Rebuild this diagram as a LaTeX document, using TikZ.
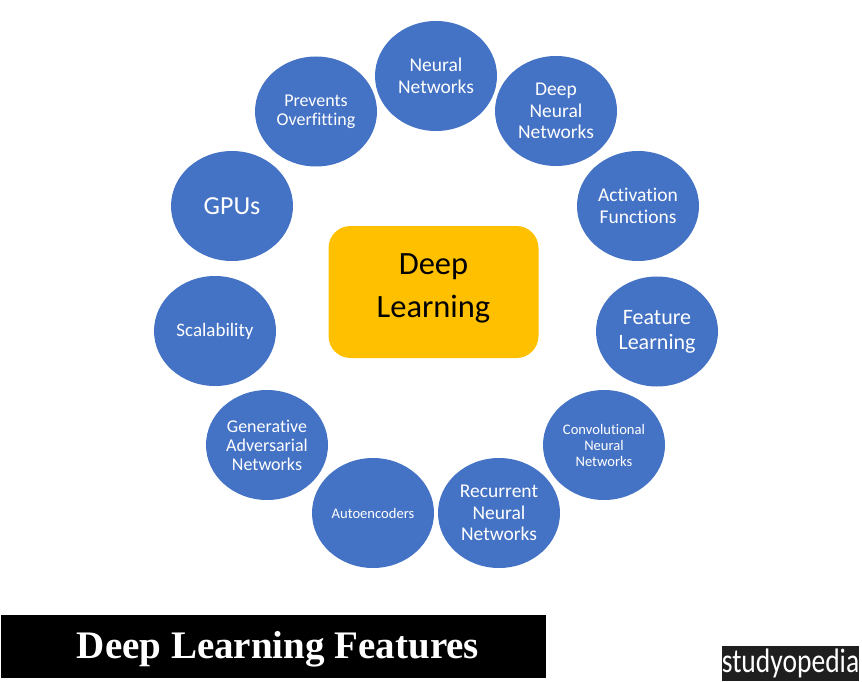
\documentclass[tikz,border=0pt]{standalone}
\usepackage{xcolor}
\usepackage{fontspec}
\setmainfont[Ligatures={NoRequired,NoCommon,NoContextual}]{Carlito}
\newfontfamily\titlefont{Liberation Serif}
\definecolor{dlblue}{HTML}{4472C4}
\definecolor{dlgold}{HTML}{FFC000}
\usetikzlibrary{shapes.geometric}
\tikzset{
  dlfeat/.style={ellipse,fill=dlblue,text=white,align=center,inner sep=0pt,minimum width=122pt,minimum height=110pt},
  dlhub/.style={rectangle,rounded corners=22pt,fill=dlgold,minimum width=210pt,minimum height=132pt},
  dlbar/.style={fill=black,inner sep=0pt},
}
\newcommand{\fszA}{\fontsize{19.5}{21.5}\selectfont}
\newcommand{\fszB}{\fontsize{18}{19}\selectfont}
\newcommand{\fszC}{\fontsize{14.6}{16}\selectfont}
\begin{document}
\begin{tikzpicture}[x=1pt,y=-1pt]
  \useasboundingbox (0,0) rectangle (862,682);
  % centre box
  \node[dlhub] (hub) at (433.5,292) {};
  \node[align=center,font=\fontsize{32.5}{43}\selectfont] (hubtext) at ([yshift=4pt]hub.center) {Deep\\Learning};
  % ring of features, clockwise from the top
  \node[dlfeat,font=\fszA] (nn) at (436,76) {Neural\\Networks};
  \node[dlfeat,font=\fszA] (dnn) at (556,111) {Deep\\Neural\\Networks};
  \node[dlfeat,font=\fszA] (act) at (638,206) {Activation\\Functions};
  \node[dlfeat,font=\fontsize{22}{25}\selectfont] (fl) at (657,331.5) {Feature\\Learning};
  \node[dlfeat,font=\fszC] (cnn) at (604,445) {Convolutional\\Neural\\Networks};
  \node[dlfeat,font=\fszA] (rnn) at (499,513) {Recurrent\\Neural\\Networks};
  \node[dlfeat,font=\fszC] (ae) at (373,513) {Autoencoders};
  \node[dlfeat,font=\fszB] (gan) at (267,445) {Generative\\Adversarial\\Networks};
  \node[dlfeat,font=\fontsize{19}{21}\selectfont] (sc) at (215,331) {Scalability};
  \node[dlfeat,font=\fontsize{26}{29}\selectfont] (gpu) at (232,206) {GPUs};
  \node[dlfeat,font=\fszB] (po) at (316,111.5) {Prevents\\Overfitting};
  % title bar and logo
  \node[dlbar,minimum width=545pt,minimum height=63pt] (bar) at (273.5,646.5) {};
  \node[text=white,font=\titlefont\bfseries\fontsize{39}{42}\selectfont] (title) at ([xshift=4.5pt,yshift=-3pt]bar.center) {Deep Learning Features};
  \node[dlbar,fill=black!88,minimum width=137pt,minimum height=35pt] (logo) at (790.5,663.5) {};
  \node[text=white,inner sep=0pt,font=\fontsize{34}{36}\selectfont] (logotext) at (logo.center) {\scalebox{0.81}[1]{studyopedia}};
\end{tikzpicture}
\end{document}
